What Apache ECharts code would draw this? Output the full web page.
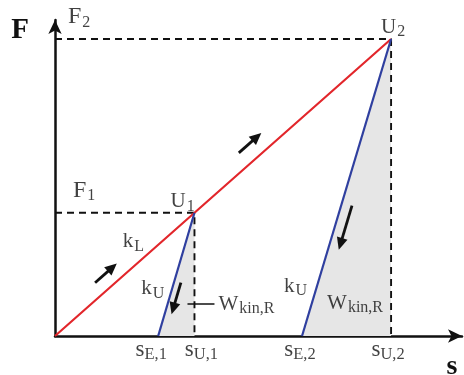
<!DOCTYPE html>
<html>
<head>
<meta charset="utf-8">
<script src="https://cdn.jsdelivr.net/npm/echarts@6/dist/echarts.min.js"></script>
<style>
  html, body { margin: 0; padding: 0; background: #fff; }
  #c { width: 464px; height: 375px; }
</style>
</head>
<body>
<div id="c"></div>
<script>
// Force–displacement diagram: loading along k_L, unloading along k_U.
const sU = [4.15, 10];      // displacement at the turning points U1, U2
const fU = [4.15, 10];      // force at U1, U2 (F1, F2)
const sE = [3.07, 7.35];    // remaining displacement after unloading
const sTickValues = [sE[0], sU[0], sE[1], sU[1]];
const sTickSubs = ['E,1', 'U,1', 'E,2', 'U,2'];
const sAxisMax = 12.11;
const fAxisMax = 10.64;

const SERIF = '"Liberation Serif", "DejaVu Serif", "Times New Roman", serif';
const INK = '#111';
const RED = '#e2262b';
const BLUE = '#2f3f9f';
const GREY = '#e6e6e6';

const chart = echarts.init(document.getElementById('c'), null, { renderer: 'canvas' });

const rich = {
  a:  { fontFamily: SERIF, fontSize: 24, color: INK },
  as: { fontFamily: SERIF, fontSize: 16, color: INK, padding: [11, 0, 0, 1] },
  b:  { fontFamily: SERIF, fontSize: 21, color: INK },
  bs: { fontFamily: SERIF, fontSize: 16, color: INK, padding: [10, 0, 0, 1] },
  s:  { fontFamily: SERIF, fontSize: 23, color: INK },
  ss: { fontFamily: SERIF, fontSize: 16.5, color: INK, padding: [10, 0, 0, 0] }
};

function textPoint(value, text, dx, dy, align) {
  return {
    value: value,
    label: {
      show: true,
      formatter: text,
      position: [dx, dy],
      align: align || 'left',
      verticalAlign: 'middle',
      rich: rich
    }
  };
}

const mid = (p, q) => [(p[0] + q[0]) / 2, (p[1] + q[1]) / 2];
const O = [0, 0];
const U1 = [sU[0], fU[0]];
const U2 = [sU[1], fU[1]];
const E1 = [sE[0], 0];
const E2 = [sE[1], 0];

const tickShift = [-7, 7, -2, -3];
const labelData = [
  textPoint([0, fU[1]], '{a|F}{as|2}', 13, -22),
  textPoint([0, fU[0]], '{a|F}{as|1}', 18, -22),
  textPoint(U2, '{b|U}{bs|2}', -10, -12),
  textPoint(U1, '{b|U}{bs|1}', -24, -11),
  textPoint(mid(O, U1), '{b|k}{bs|L}', -2, -33),
  textPoint(mid(E1, U1), '{b|k}{bs|U}', -35, 14),
  textPoint(E2, '{b|k}{bs|U}', -18, -50),
  textPoint([sU[0], 0], '{b|W}{bs|kin,R}', 24, -32),
  textPoint([sU[1], 0], '{b|W}{bs|kin,R}', -64, -33)
].concat(sTickValues.map((v, i) =>
  textPoint([v, 0], '{s|s}{ss|' + sTickSubs[i] + '}', tickShift[i], 14, 'center')
));

chart.setOption({
  animation: false,
  grid: { left: 55, right: 2, top: 20, bottom: 39, containLabel: false, outerBoundsMode: 'none' },
  xAxis: {
    type: 'value', min: 0, max: sAxisMax,
    splitLine: { show: false }, axisTick: { show: false }, axisLabel: { show: false },
    axisLine: { show: true, onZero: false, symbol: ['none', 'arrow'], symbolSize: [10, 14],
      lineStyle: { color: INK, width: 2.5 } },
    name: 's', nameLocation: 'end', nameGap: -10,
    nameTextStyle: { fontFamily: SERIF, fontWeight: 'bold', fontSize: 28, color: INK,
      align: 'center', verticalAlign: 'top', padding: [17, 0, 0, 0] }
  },
  yAxis: {
    type: 'value', min: 0, max: fAxisMax,
    splitLine: { show: false }, axisTick: { show: false }, axisLabel: { show: false },
    axisLine: { show: true, onZero: false, symbol: ['none', 'arrow'], symbolSize: [10, 14],
      lineStyle: { color: INK, width: 2.5 } },
    name: 'F', nameLocation: 'end', nameGap: 4,
    nameTextStyle: { fontFamily: SERIF, fontWeight: 'bold', fontSize: 29, color: INK,
      align: 'right', verticalAlign: 'top', padding: [0, 26, 0, 0] }
  },
  series: [
    // dissipated work under the unloading lines
    { type: 'line', z: 1, showSymbol: false, silent: true, data: [E1, U1],
      lineStyle: { width: 0 }, areaStyle: { color: GREY, opacity: 1 } },
    { type: 'line', z: 1, showSymbol: false, silent: true, data: [E2, U2],
      lineStyle: { width: 0 }, areaStyle: { color: GREY, opacity: 1 } },
    // guide lines to the turning points
    { type: 'line', z: 2, showSymbol: false, silent: true, data: [[0, fU[0]], U1, [sU[0], 0]],
      lineStyle: { color: INK, width: 1.9, type: [7, 5] } },
    { type: 'line', z: 2, showSymbol: false, silent: true, data: [[0, fU[1]], U2, [sU[1], 0]],
      lineStyle: { color: INK, width: 1.9, type: [7, 5] } },
    // loading path
    { type: 'line', z: 3, showSymbol: false, silent: true, data: [O, U1, U2],
      lineStyle: { color: RED, width: 2.2 } },
    // unloading paths
    { type: 'line', z: 3, showSymbol: false, silent: true, data: [U1, E1],
      lineStyle: { color: BLUE, width: 2.2 } },
    { type: 'line', z: 3, showSymbol: false, silent: true, data: [U2, E2],
      lineStyle: { color: BLUE, width: 2.2 } },
    // annotations
    { type: 'scatter', z: 5, symbolSize: 0, silent: true, data: labelData }
  ]
});

// direction arrows drawn alongside a path segment (t: fraction along it, off: px to its side)
function arrowShapes(p0, p1, t, off, len) {
  const A = chart.convertToPixel({ gridIndex: 0 }, p0);
  const B = chart.convertToPixel({ gridIndex: 0 }, p1);
  const dx = B[0] - A[0], dy = B[1] - A[1], L = Math.hypot(dx, dy);
  const ux = dx / L, uy = dy / L, nx = uy, ny = -ux;
  const cx = A[0] + ux * t * L + nx * off, cy = A[1] + uy * t * L + ny * off;
  const sx = cx - ux * len / 2, sy = cy - uy * len / 2;
  const tx = cx + ux * len / 2, ty = cy + uy * len / 2;
  const head = 12, half = 5.5;
  const bx = tx - ux * head, by = ty - uy * head;
  return [
    { type: 'line', silent: true, z: 10,
      shape: { x1: sx, y1: sy, x2: bx + ux * 2, y2: by + uy * 2 },
      style: { stroke: INK, lineWidth: 2.8 } },
    { type: 'polygon', silent: true, z: 10,
      shape: { points: [[tx, ty], [bx + nx * half, by + ny * half], [bx - nx * half, by - ny * half]] },
      style: { fill: INK } }
  ];
}

const w1 = chart.convertToPixel({ gridIndex: 0 }, [sU[0], 0]);
chart.setOption({
  graphic: [].concat(
    arrowShapes(O, U2, 0.178, 13.4, 29),
    arrowShapes(O, U2, 0.611, 15.5, 30),
    arrowShapes(U1, E1, 0.68, 6.7, 33),
    arrowShapes(U2, E2, 0.625, 10.4, 46),
    [{ type: 'line', silent: true, z: 10,
       shape: { x1: w1[0] - 7, y1: w1[1] - 32, x2: w1[0] + 20, y2: w1[1] - 32 },
       style: { stroke: INK, lineWidth: 1.5 } }]
  )
});
</script>
</body>
</html>
